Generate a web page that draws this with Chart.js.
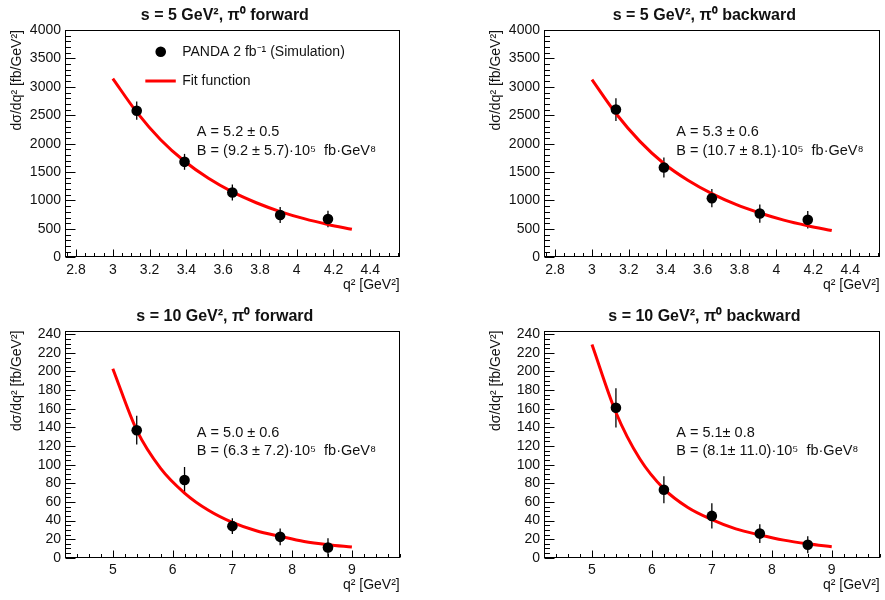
<!DOCTYPE html>
<html><head><meta charset="utf-8">
<script src="https://cdn.jsdelivr.net/npm/chart.js@4"></script>
<style>
html,body{margin:0;padding:0;background:#fff;}
#wrap{position:relative;width:885px;height:600px;overflow:hidden;background:#fff;}
canvas{position:absolute;}
</style></head><body><div id="wrap">
<canvas id="c1" width="405" height="300" style="left:0px;top:0px;width:405px;height:300px"></canvas>
<canvas id="c2" width="406" height="300" style="left:479px;top:0px;width:406px;height:300px"></canvas>
<canvas id="c3" width="405" height="300" style="left:0px;top:300px;width:405px;height:300px"></canvas>
<canvas id="c4" width="406" height="300" style="left:479px;top:300px;width:406px;height:300px"></canvas>
</div>
<script>
// ---------- data ----------
const Q2_S5 = [3.13, 3.39, 3.65, 3.91, 4.17];
const XS_S5_FWD = [2580, 1680, 1140, 745, 675];
const ERR_S5_FWD = [160, 140, 140, 140, 145];
const XS_S5_BWD = [2600, 1580, 1040, 770, 660];
const ERR_S5_BWD = [200, 175, 160, 160, 155];
const FIT_Q2_S5 = [3.0, 3.13, 3.26, 3.39, 3.52, 3.65, 3.78, 3.91, 4.04, 4.17, 4.30];
const FIT_S5_FWD = [3145, 2555, 2070, 1690, 1390, 1150, 960, 805, 680, 578, 493];
const FIT_S5_BWD = [3125, 2530, 2040, 1650, 1355, 1120, 930, 780, 655, 555, 470];

const Q2_S10 = [5.4, 6.2, 7.0, 7.8, 8.6];
const XS_S10_FWD = [137, 83.5, 34, 22.5, 11];
const ERR_S10_FWD = [15.5, 14, 8.5, 9, 10];
const XS_S10_BWD = [161, 73, 45, 26, 14];
const ERR_S10_BWD = [21, 14.5, 13.5, 10, 9];
const FIT_Q2_S10 = [5.0, 5.4, 5.8, 6.2, 6.6, 7.0, 7.4, 7.8, 8.2, 8.6, 9.0];
const FIT_S10_FWD = [203, 137, 96, 69.5, 51, 38, 29, 23, 17.5, 14, 11.5];
const FIT_S10_BWD = [229, 156, 106, 74, 54, 41, 31, 24.5, 19, 15, 11.8];

const X_TICKS_S5 = [2.8, 3, 3.2, 3.4, 3.6, 3.8, 4, 4.2, 4.4];
const Y_TICKS_S5 = [0, 500, 1000, 1500, 2000, 2500, 3000, 3500, 4000];
const X_TICKS_S10 = [5, 6, 7, 8, 9];
const Y_TICKS_S10 = [0, 20, 40, 60, 80, 100, 120, 140, 160, 180, 200, 220, 240];

const TITLES = ['s = 5 GeV², π⁰ forward', 's = 5 GeV², π⁰ backward',
                's = 10 GeV², π⁰ forward', 's = 10 GeV², π⁰ backward'];
const PAR_A = ['A = 5.2 ± 0.5', 'A = 5.3 ± 0.6', 'A = 5.0 ± 0.6', 'A = 5.1± 0.8'];
const PAR_B = ['B = (9.2 ± 5.7)·10⁵  fb·GeV⁸', 'B = (10.7 ± 8.1)·10⁵  fb·GeV⁸',
               'B = (6.3 ± 7.2)·10⁵  fb·GeV⁸', 'B = (8.1± 11.0)·10⁵  fb·GeV⁸'];
const LABEL_POINTS = 'PANDA 2 fb⁻¹ (Simulation)';
const LABEL_FIT = 'Fit function';
const X_TITLE = 'q² [GeV²]';
const Y_TITLE = 'dσ/dq² [fb/GeV²]';

// ---------- drawing ----------
const FONT = '"Liberation Sans", Arial, Helvetica, sans-serif';
const INK = '#111';

function minorValues(min, max, step) {
  const out = [];
  for (let k = Math.ceil(min / step - 1e-9); k * step <= max + 1e-9; k++) out.push(+(k * step).toFixed(6));
  return out;
}

const rootStyle = {
  id: 'rootStyle',
  beforeDatasetsDraw(chart, args, o) {
    const {ctx, scales: {x, y}} = chart;
    const ds = chart.data.datasets[0];
    ctx.save();
    ctx.strokeStyle = '#000';
    ctx.lineWidth = 1.3;
    ds.data.forEach((p, i) => {
      const px = x.getPixelForValue(p.x);
      ctx.beginPath();
      ctx.moveTo(px, y.getPixelForValue(p.y - o.errors[i]));
      ctx.lineTo(px, y.getPixelForValue(p.y + o.errors[i]));
      ctx.stroke();
    });
    ctx.restore();
  },
  afterDraw(chart, args, o) {
    const {ctx, chartArea: a, scales: {x, y}} = chart;
    const w = a.right - a.left, h = a.bottom - a.top;
    ctx.save();
    // frame
    ctx.strokeStyle = '#000';
    ctx.lineWidth = 1;
    ctx.strokeRect(Math.round(a.left) + 0.5, Math.round(a.top) + 0.5, Math.round(w) - 1, Math.round(h) - 1);
    // ticks (inward)
    ctx.beginPath();
    const bx = Math.round(a.bottom) - 0.5, lx = Math.round(a.left) + 0.5;
    minorValues(x.min, x.max, o.xMinor).forEach(v => {
      const px = Math.round(x.getPixelForValue(v)) + 0.5;
      const major = o.xMajor.some(m => Math.abs(m - v) < 1e-6);
      ctx.moveTo(px, bx); ctx.lineTo(px, bx - (major ? 7 : 3.5));
    });
    minorValues(y.min, y.max, o.yMinor).forEach(v => {
      const py = Math.round(y.getPixelForValue(v)) + 0.5;
      const major = o.yMajor.some(m => Math.abs(m - v) < 1e-6);
      ctx.moveTo(lx, py); ctx.lineTo(lx + (major ? 10 : 5.5), py);
    });
    ctx.stroke();
    // title
    ctx.fillStyle = INK;
    ctx.font = 'bold 16px ' + FONT;
    ctx.textAlign = 'center';
    ctx.textBaseline = 'middle';
    ctx.fillText(o.title, (a.left + a.right) / 2 - 7.5, a.top - 14);
    // fit parameters
    ctx.font = '14.5px ' + FONT;
    ctx.textAlign = 'left';
    ctx.fillText(o.parA, a.left + 0.394 * w, a.top + 0.449 * h);
    ctx.fillText(o.parB, a.left + 0.394 * w, a.top + 0.532 * h);
    // legend
    if (o.legend) {
      const pts = chart.data.datasets[0], fit = chart.data.datasets[1];
      ctx.font = '14px ' + FONT;
      const ly1 = a.top + 0.0955 * h, ly2 = a.top + 0.2244 * h;
      ctx.fillStyle = pts.backgroundColor;
      ctx.beginPath(); ctx.arc(a.left + 0.286 * w, ly1, 5.3, 0, Math.PI * 2); ctx.fill();
      ctx.strokeStyle = fit.borderColor; ctx.lineWidth = fit.borderWidth;
      ctx.beginPath(); ctx.moveTo(a.left + 0.24 * w, ly2); ctx.lineTo(a.left + 0.331 * w, ly2); ctx.stroke();
      ctx.fillStyle = INK;
      ctx.fillText(pts.label, a.left + 0.35 * w, ly1);
      ctx.fillText(fit.label, a.left + 0.35 * w, ly2);
    }
    ctx.restore();
  }
};

function makePanel(id, p) {
  const canvas = document.getElementById(id);
  const pts = p.q2.map((q, i) => ({x: q, y: p.xs[i]}));
  const fit = p.fitQ2.map((q, i) => ({x: q, y: p.fit[i]}));
  new Chart(canvas, {
    type: 'scatter',
    data: {
      datasets: [
        {label: LABEL_POINTS, data: pts, backgroundColor: '#000', borderWidth: 0, pointRadius: 5.3, pointHoverRadius: 5.3},
        {type: 'line', label: LABEL_FIT, data: fit, borderColor: '#ff0000', borderWidth: 3, pointRadius: 0,
         fill: false, cubicInterpolationMode: 'monotone'}
      ]
    },
    options: {
      responsive: false, animation: false, devicePixelRatio: 1,
      layout: {padding: {top: p.padTop, left: 0, right: 2, bottom: 0}},
      plugins: {
        legend: {display: false}, tooltip: {enabled: false}, title: {display: false},
        rootStyle: {errors: p.err, title: p.title, parA: p.parA, parB: p.parB, legend: p.legend,
                    xMajor: p.xTicks, yMajor: p.yTicks, xMinor: p.xMinor, yMinor: p.yMinor}
      },
      scales: {
        x: {
          type: 'linear', min: p.xmin, max: p.xmax,
          afterBuildTicks: s => { s.ticks = p.xTicks.map(v => ({value: v})); },
          afterFit: s => { s.height = p.xAxisH; },
          grid: {display: false, drawTicks: false}, border: {display: false},
          ticks: {autoSkip: false, maxRotation: 0, padding: 4, color: INK, font: {family: FONT, size: 14},
                  callback: v => String(v)},
          title: {display: true, text: X_TITLE, align: 'end', color: INK, font: {family: FONT, size: 14},
                  padding: {top: 0, bottom: 6.6}}
        },
        y: {
          type: 'linear', min: 0, max: p.ymax,
          afterBuildTicks: s => { s.ticks = p.yTicks.map(v => ({value: v})); },
          afterFit: s => { s.width = 65; },
          grid: {display: false, drawTicks: false}, border: {display: false},
          ticks: {autoSkip: false, padding: 4, color: INK, font: {family: FONT, size: 14},
                  callback: v => String(v)},
          title: {display: true, text: Y_TITLE, align: 'end', color: INK, font: {family: FONT, size: 14},
                  padding: {top: 8.6, bottom: 0}}
        }
      }
    },
    plugins: [rootStyle]
  });
}

const S5 = {xmin: 2.74, xmax: 4.56, ymax: 4000, xTicks: X_TICKS_S5, yTicks: Y_TICKS_S5, xMinor: 0.05, yMinor: 100,
            q2: Q2_S5, fitQ2: FIT_Q2_S5, padTop: 30, xAxisH: 42.7};
const S10 = {xmin: 4.2, xmax: 9.8, ymax: 244, xTicks: X_TICKS_S10, yTicks: Y_TICKS_S10, xMinor: 0.2, yMinor: 5,
             q2: Q2_S10, fitQ2: FIT_Q2_S10, padTop: 30.5, xAxisH: 42.2};

makePanel('c1', Object.assign({}, S5, {xs: XS_S5_FWD, err: ERR_S5_FWD, fit: FIT_S5_FWD,
  title: TITLES[0], parA: PAR_A[0], parB: PAR_B[0], legend: true}));
makePanel('c2', Object.assign({}, S5, {xs: XS_S5_BWD, err: ERR_S5_BWD, fit: FIT_S5_BWD,
  title: TITLES[1], parA: PAR_A[1], parB: PAR_B[1], legend: false}));
makePanel('c3', Object.assign({}, S10, {xs: XS_S10_FWD, err: ERR_S10_FWD, fit: FIT_S10_FWD,
  title: TITLES[2], parA: PAR_A[2], parB: PAR_B[2], legend: false}));
makePanel('c4', Object.assign({}, S10, {xs: XS_S10_BWD, err: ERR_S10_BWD, fit: FIT_S10_BWD,
  title: TITLES[3], parA: PAR_A[3], parB: PAR_B[3], legend: false}));
</script></body></html>
